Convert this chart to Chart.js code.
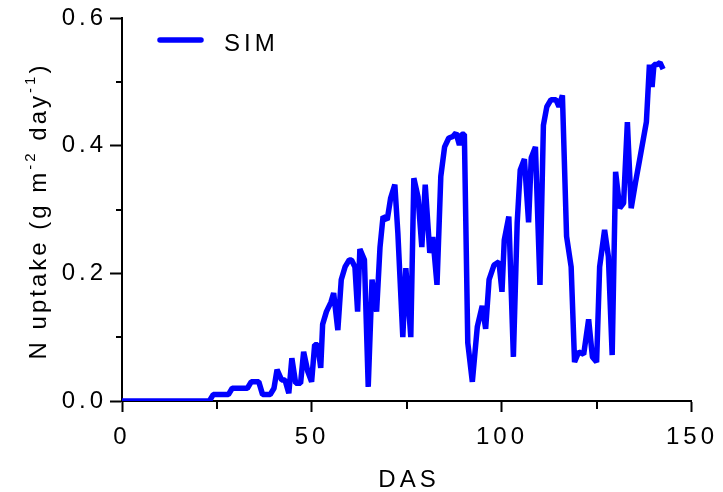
<!DOCTYPE html>
<html><head><meta charset="utf-8">
<script src="https://cdn.jsdelivr.net/npm/chart.js@4.4.0/dist/chart.umd.min.js"></script>
<style>html,body{margin:0;padding:0;background:#fff}#wrap{width:723px;height:492px;position:relative}canvas{display:block}</style>
</head><body><div id="wrap"><canvas id="c" width="723" height="492"></canvas></div>
<script>
const das = [0, 23, 24, 28, 29, 33, 34, 36, 37, 39, 40, 40.8, 42, 42.9, 43.9, 44.7, 45.7, 47, 47.8, 48.9, 49.9, 50.7, 51.5, 52.3, 52.8, 53.8, 55, 55.7, 56.8, 57.7, 58.7, 59.8, 60.4, 61.3, 62, 62.6, 63.8, 64.8, 65.8, 67, 67.9, 68.7, 69.8, 70.7, 71.8, 72.6, 73.9, 74.7, 76, 76.8, 77.9, 78.9, 79.8, 81, 81.8, 82.9, 83.9, 84.9, 86, 87, 87.9, 88.8, 89.4, 90.1, 91, 92.2, 93.5, 94.8, 95.7, 96.6, 97.9, 99.2, 100, 100.6, 101.8, 103, 104, 104.8, 105.9, 107, 107.7, 108.8, 110, 110.9, 111.8, 112.9, 114.2, 115, 115.9, 117, 118.2, 119.1, 120.2, 121.5, 122.8, 123.8, 124.9, 125.7, 127, 128, 129, 129.9, 131, 132, 133, 134, 135.1, 136.2, 138, 138.8, 139.5, 140, 140.8, 141.6, 142.4];
const uptake = [0, 0, 0.01, 0.01, 0.02, 0.02, 0.03, 0.03, 0.01, 0.01, 0.02, 0.049, 0.033, 0.033, 0.012, 0.067, 0.028, 0.028, 0.077, 0.046, 0.03, 0.088, 0.088, 0.052, 0.12, 0.14, 0.155, 0.169, 0.111, 0.19, 0.21, 0.221, 0.221, 0.21, 0.14, 0.238, 0.221, 0.022, 0.19, 0.14, 0.241, 0.289, 0.284, 0.318, 0.339, 0.263, 0.1, 0.208, 0.1, 0.349, 0.32, 0.241, 0.339, 0.232, 0.257, 0.182, 0.352, 0.398, 0.412, 0.414, 0.42, 0.401, 0.418, 0.418, 0.091, 0.03, 0.116, 0.149, 0.113, 0.19, 0.213, 0.218, 0.171, 0.252, 0.289, 0.069, 0.279, 0.362, 0.379, 0.28, 0.381, 0.398, 0.182, 0.432, 0.461, 0.472, 0.472, 0.461, 0.479, 0.258, 0.21, 0.061, 0.077, 0.073, 0.128, 0.069, 0.061, 0.21, 0.268, 0.226, 0.072, 0.359, 0.302, 0.31, 0.437, 0.302, 0.341, 0.377, 0.437, 0.527, 0.492, 0.527, 0.527, 0.53, 0.52];
const xTicks = [0, 50, 100, 150];
const yTicks = [0, 0.2, 0.4, 0.6];
const xMinor = [25, 75, 125];
const yMinor = [0.1, 0.3, 0.5];
const seriesName = 'SIM';
const xTitle = 'DAS';
const yTitleParts = [['N uptake (g m', false], ['-2', true], [' day', false], ['-1', true], [')', false]];

const FONT = 'Liberation Sans, Arial, sans-serif';
const LS = '4px';

const decor = {
  id: 'decor',
  beforeDraw(chart) { chart.ctx.letterSpacing = LS; },
  afterDraw(chart) {
    const ctx = chart.ctx;
    const xs = chart.scales.x, ys = chart.scales.y;
    const ca = chart.chartArea;
    ctx.save();
    ctx.strokeStyle = '#000';
    ctx.lineWidth = 2;
    ctx.beginPath();
    xMinor.forEach(v => { const p = Math.round(xs.getPixelForValue(v)); ctx.moveTo(p, ca.bottom); ctx.lineTo(p, ca.bottom + 8); });
    yMinor.forEach(v => { const p = Math.round(ys.getPixelForValue(v)); ctx.moveTo(ca.left, p); ctx.lineTo(ca.left - 6, p); });
    ctx.stroke();

    ctx.fillStyle = '#000';
    ctx.letterSpacing = LS;
    ctx.font = '24px ' + FONT;
    ctx.textAlign = 'center';
    ctx.textBaseline = 'alphabetic';
    ctx.fillText(xTitle, (ca.left + ca.right) / 2 + 2, 487);

    // y title with superscripts
    ctx.save();
    ctx.translate(46, 211);
    ctx.rotate(-Math.PI / 2);
    ctx.letterSpacing = '3px';
    let total = 0;
    const widths = yTitleParts.map(([t, sup]) => { ctx.font = (sup ? '15px ' : '24px ') + FONT; const w = ctx.measureText(t).width; total += w; return w; });
    let x = -total / 2;
    ctx.textAlign = 'left';
    yTitleParts.forEach(([t, sup], i) => {
      ctx.font = (sup ? '15px ' : '24px ') + FONT;
      ctx.fillText(t, x, sup ? -11 : 0);
      x += widths[i];
    });
    ctx.restore();

    // legend
    const ds = chart.data.datasets[0];
    ctx.strokeStyle = ds.borderColor;
    ctx.lineWidth = 5.5;
    ctx.lineCap = 'round';
    ctx.beginPath();
    ctx.moveTo(160, 40); ctx.lineTo(201, 40);
    ctx.stroke();
    ctx.fillStyle = '#000';
    ctx.letterSpacing = LS;
    ctx.font = '24px ' + FONT;
    ctx.textAlign = 'left';
    ctx.fillText(ds.label, 224, 51);
    ctx.restore();
  }
};

new Chart(document.getElementById('c'), {
  type: 'line',
  data: {
    datasets: [{
      label: seriesName,
      data: das.map((d, i) => ({ x: d, y: uptake[i] })),
      borderColor: '#0000FF',
      borderWidth: 5.5,
      pointRadius: 0,
      tension: 0,
      borderJoinStyle: 'bevel',
      fill: false
    }]
  },
  options: {
    responsive: false,
    animation: false,
    devicePixelRatio: 1,
    layout: { padding: { left: 0, right: 27, top: 18, bottom: 0 } },
    plugins: { legend: { display: false }, tooltip: { enabled: false } },
    scales: {
      x: {
        type: 'linear', min: 0, max: 150,
        afterBuildTicks: s => { s.ticks = xTicks.map(v => ({ value: v })); },
        afterFit: s => { s.height = 91; },
        ticks: { font: { family: FONT, size: 24 }, color: '#000', padding: 11, maxRotation: 0, callback: v => String(v) },
        grid: { drawOnChartArea: false, drawTicks: true, tickLength: 11, tickWidth: 2, tickColor: '#000' },
        border: { display: true, color: '#000', width: 2 }
      },
      y: {
        min: 0, max: 0.6,
        afterBuildTicks: s => { s.ticks = yTicks.map(v => ({ value: v })); },
        afterFit: s => { s.width = 122; },
        ticks: { font: { family: FONT, size: 24 }, color: '#000', padding: 3, callback: v => Number(v).toFixed(1) },
        grid: { drawOnChartArea: false, drawTicks: true, tickLength: 12, tickWidth: 2, tickColor: '#000' },
        border: { display: true, color: '#000', width: 2 }
      }
    }
  },
  plugins: [decor]
});
</script></body></html>
